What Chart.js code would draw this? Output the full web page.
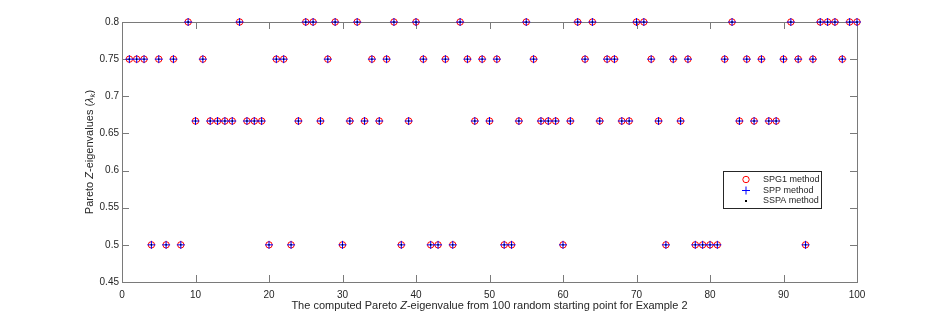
<!DOCTYPE html>
<html>
<head>
<meta charset="utf-8">
<script src="https://cdn.jsdelivr.net/npm/chart.js@4.4.1/dist/chart.umd.min.js"></script>
<style>
  body { margin: 0; background: #fff; }
  #wrap { width: 948px; height: 318px; }
</style>
</head>
<body>
<div id="wrap"><canvas id="myChart" width="948" height="318"></canvas></div>
<script>
// run index (random starting point no.)
const runs = [1,2,3,4,5,6,7,8,9,10,11,12,13,14,15,16,17,18,19,20,
  21,22,23,24,25,26,27,28,29,30,31,32,33,34,35,36,37,38,39,40,
  41,42,43,44,45,46,47,48,49,50,51,52,53,54,55,56,57,58,59,60,
  61,62,63,64,65,66,67,68,69,70,71,72,73,74,75,76,77,78,79,80,
  81,82,83,84,85,86,87,88,89,90,91,92,93,94,95,96,97,98,99,100];

// computed Pareto Z-eigenvalue per method
const spg1 = [0.75,0.75,0.75,0.5,0.75,0.5,0.75,0.5,0.8,0.6667,0.75,0.6667,0.6667,0.6667,0.6667,0.8,0.6667,0.6667,0.6667,0.5,
  0.75,0.75,0.5,0.6667,0.8,0.8,0.6667,0.75,0.8,0.5,0.6667,0.8,0.6667,0.75,0.6667,0.75,0.8,0.5,0.6667,0.8,
  0.75,0.5,0.5,0.75,0.5,0.8,0.75,0.6667,0.75,0.6667,0.75,0.5,0.5,0.6667,0.8,0.75,0.6667,0.6667,0.6667,0.5,
  0.6667,0.8,0.75,0.8,0.6667,0.75,0.75,0.6667,0.6667,0.8,0.8,0.75,0.6667,0.5,0.75,0.6667,0.75,0.5,0.5,0.5,
  0.5,0.75,0.8,0.6667,0.75,0.6667,0.75,0.6667,0.6667,0.75,0.8,0.75,0.5,0.75,0.8,0.8,0.8,0.75,0.8,0.8];
const spp = [0.75,0.75,0.75,0.5,0.75,0.5,0.75,0.5,0.8,0.6667,0.75,0.6667,0.6667,0.6667,0.6667,0.8,0.6667,0.6667,0.6667,0.5,
  0.75,0.75,0.5,0.6667,0.8,0.8,0.6667,0.75,0.8,0.5,0.6667,0.8,0.6667,0.75,0.6667,0.75,0.8,0.5,0.6667,0.8,
  0.75,0.5,0.5,0.75,0.5,0.8,0.75,0.6667,0.75,0.6667,0.75,0.5,0.5,0.6667,0.8,0.75,0.6667,0.6667,0.6667,0.5,
  0.6667,0.8,0.75,0.8,0.6667,0.75,0.75,0.6667,0.6667,0.8,0.8,0.75,0.6667,0.5,0.75,0.6667,0.75,0.5,0.5,0.5,
  0.5,0.75,0.8,0.6667,0.75,0.6667,0.75,0.6667,0.6667,0.75,0.8,0.75,0.5,0.75,0.8,0.8,0.8,0.75,0.8,0.8];
const sspa = [0.75,0.75,0.75,0.5,0.75,0.5,0.75,0.5,0.8,0.6667,0.75,0.6667,0.6667,0.6667,0.6667,0.8,0.6667,0.6667,0.6667,0.5,
  0.75,0.75,0.5,0.6667,0.8,0.8,0.6667,0.75,0.8,0.5,0.6667,0.8,0.6667,0.75,0.6667,0.75,0.8,0.5,0.6667,0.8,
  0.75,0.5,0.5,0.75,0.5,0.8,0.75,0.6667,0.75,0.6667,0.75,0.5,0.5,0.6667,0.8,0.75,0.6667,0.6667,0.6667,0.5,
  0.6667,0.8,0.75,0.8,0.6667,0.75,0.75,0.6667,0.6667,0.8,0.8,0.75,0.6667,0.5,0.75,0.6667,0.75,0.5,0.5,0.5,
  0.5,0.75,0.8,0.6667,0.75,0.6667,0.75,0.6667,0.6667,0.75,0.8,0.75,0.5,0.75,0.8,0.8,0.8,0.75,0.8,0.8];

const xTicks = [0,10,20,30,40,50,60,70,80,90,100];
const yTicks = [0.45,0.5,0.55,0.6,0.65,0.7,0.75,0.8];
const yTickLabels = ['0.45','0.5','0.55','0.6','0.65','0.7','0.75','0.8'];

const FONT = "'Liberation Sans', Arial, Helvetica, sans-serif";
const AXIS = '#7a7a7a';
const TXT = '#262626';

function pts(vals) {
  return vals.map((v, i) => ({ x: runs[i], y: v }));
}

// draw a row of text pieces (with own fonts / offsets) centred on cx
function drawRuns(ctx, pieces, cx, cy) {
  let w = 0;
  pieces.forEach(p => { ctx.font = p.font; w += ctx.measureText(p.t).width; });
  let x = cx - w / 2;
  pieces.forEach(p => {
    ctx.font = p.font;
    ctx.fillText(p.t, x, cy + (p.dy || 0));
    x += ctx.measureText(p.t).width;
  });
}

// MATLAB style box with inward ticks, titles and legend
const matlabAxes = {
  id: 'matlabAxes',
  beforeDatasetsDraw(chart) {
    const ctx = chart.ctx;
    const a = chart.chartArea;
    const xs = chart.scales.x, ys = chart.scales.y;
    ctx.save();
    ctx.strokeStyle = AXIS;
    ctx.lineWidth = 1;
    ctx.strokeRect(Math.round(a.left) + 0.5, Math.round(a.top) + 0.5,
      Math.round(a.right - a.left), Math.round(a.bottom - a.top));
    ctx.beginPath();
    xTicks.forEach(v => {
      const px = Math.round(xs.getPixelForValue(v)) + 0.5;
      ctx.moveTo(px, a.bottom); ctx.lineTo(px, a.bottom - 7);
      ctx.moveTo(px, a.top); ctx.lineTo(px, a.top + 7);
    });
    yTicks.forEach(v => {
      const py = Math.round(ys.getPixelForValue(v)) + 0.5;
      ctx.moveTo(a.left, py); ctx.lineTo(a.left + 7, py);
      ctx.moveTo(a.right, py); ctx.lineTo(a.right - 7, py);
    });
    ctx.stroke();
    ctx.restore();
  },
  afterDraw(chart) {
    const ctx = chart.ctx;
    const a = chart.chartArea;
    const f = '11px ' + FONT, fi = 'italic 11px ' + FONT;
    ctx.save();
    ctx.fillStyle = TXT;
    ctx.textAlign = 'left';
    ctx.textBaseline = 'middle';
    drawRuns(ctx, [
      { t: 'The computed Pareto ', font: f },
      { t: 'Z', font: fi },
      { t: '-eigenvalue from 100 random starting point for Example 2', font: f }
    ], (a.left + a.right) / 2, 306);
    ctx.translate(90, (a.top + a.bottom) / 2);
    ctx.rotate(-Math.PI / 2);
    drawRuns(ctx, [
      { t: 'Pareto ', font: f },
      { t: 'Z', font: fi },
      { t: '-eigenvalues (', font: f },
      { t: '\u03bb', font: fi },
      { t: 'k', font: 'italic 8px ' + FONT, dy: 3 },
      { t: ')', font: f }
    ], 0, 0);
    ctx.restore();

    // legend
    ctx.save();
    const bx = 723.5, by = 171.5, bw = 98, bh = 37;
    ctx.fillStyle = '#fff';
    ctx.fillRect(bx, by, bw, bh);
    ctx.strokeStyle = '#262626';
    ctx.lineWidth = 1;
    ctx.strokeRect(bx, by, bw, bh);
    const mx = 746, tx = 763;
    const rows = [179.5, 190.5, 201];
    ctx.strokeStyle = '#ff0000';
    ctx.beginPath(); ctx.arc(mx, rows[0], 3.2, 0, Math.PI * 2); ctx.stroke();
    ctx.strokeStyle = '#0000ff';
    ctx.beginPath();
    ctx.moveTo(mx - 4, rows[1]); ctx.lineTo(mx + 4, rows[1]);
    ctx.moveTo(mx, rows[1] - 4); ctx.lineTo(mx, rows[1] + 4);
    ctx.stroke();
    ctx.fillStyle = '#000';
    ctx.fillRect(mx - 1, rows[2] - 1, 2, 2);
    ctx.fillStyle = TXT;
    ctx.font = '9px ' + FONT;
    ctx.textAlign = 'left';
    ctx.textBaseline = 'middle';
    ctx.fillText('SPG1 method', tx, rows[0]);
    ctx.fillText('SPP method', tx, rows[1]);
    ctx.fillText('SSPA method', tx, rows[2]);
    ctx.restore();
  }
};

const ctx = document.getElementById('myChart');

new Chart(ctx, {
  type: 'scatter',
  data: {
    datasets: [
      {
        label: 'SPG1 method',
        data: pts(spg1),
        pointStyle: 'circle',
        pointRadius: 3.2,
        borderColor: '#ff0000',
        backgroundColor: 'rgba(0,0,0,0)',
        borderWidth: 1,
        clip: false,
        order: 3
      },
      {
        label: 'SPP method',
        data: pts(spp),
        pointStyle: 'cross',
        pointRadius: 4,
        borderColor: '#0000ff',
        backgroundColor: '#0000ff',
        borderWidth: 1,
        clip: false,
        order: 2
      },
      {
        label: 'SSPA method',
        data: pts(sspa),
        pointStyle: 'rect',
        pointRadius: 1,
        borderColor: '#000',
        backgroundColor: '#000',
        borderWidth: 0,
        clip: false,
        order: 1
      }
    ]
  },
  options: {
    responsive: false,
    animation: false,
    events: [],
    layout: { padding: { top: 22, right: 91, left: 0, bottom: 0 } },
    plugins: {
      legend: { display: false },
      tooltip: { enabled: false }
    },
    scales: {
      x: {
        type: 'linear',
        min: 0,
        max: 100,
        afterBuildTicks: s => { s.ticks = xTicks.map(v => ({ value: v })); },
        afterFit: s => { s.height = 36; },
        grid: { display: false, drawTicks: false },
        border: { display: false },
        ticks: {
          padding: 7,
          maxRotation: 0,
          color: TXT,
          font: { family: FONT, size: 10 }
        }
      },
      y: {
        type: 'linear',
        min: 0.45,
        max: 0.8,
        afterBuildTicks: s => { s.ticks = yTicks.map(v => ({ value: v })); },
        afterFit: s => { s.width = 122; },
        grid: { display: false, drawTicks: false },
        border: { display: false },
        ticks: {
          padding: 3,
          color: TXT,
          font: { family: FONT, size: 10 },
          callback: (v) => yTickLabels[yTicks.indexOf(v)]
        }
      }
    }
  },
  plugins: [matlabAxes]
});
</script>
</body>
</html>
